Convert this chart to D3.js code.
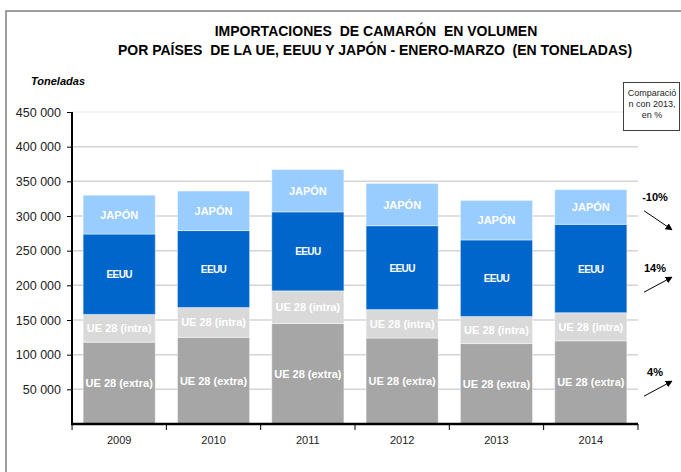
<!DOCTYPE html>
<html>
<head>
<meta charset="utf-8">
<script src="https://cdn.jsdelivr.net/npm/d3@7"></script>
<style>
  body { margin: 0; background: #fff; }
  text { font-family: Arial, "Liberation Sans", sans-serif; }
</style>
</head>
<body>
<div id="chart"></div>
<script>
var years = ['2009', '2010', '2011', '2012', '2013', '2014'];
var ueExtra = [118000, 125000, 145000, 124000, 116000, 120000];
var ueIntra = [40000, 43000, 47000, 41000, 39000, 40500];
var eeuu = [116000, 111000, 114000, 121000, 110500, 127500];
var japon = [56000, 57000, 61000, 61000, 57000, 50000];
var seriesNames = ['UE 28 (extra)', 'UE 28 (intra)', 'EEUU', 'JAPÓN'];
var yTicks = [50000, 100000, 150000, 200000, 250000, 300000, 350000, 400000, 450000];
var changeLabels = ['-10%', '14%', '4%'];
var changeAt = [322000, 219000, 69000];

var w = 681, h = 472;
var colors = ['#a6a6a6', '#d9d9d9', '#0066cc', '#99ccff'];

var svg = d3.select('#chart').append('svg')
    .attr('width', w)
    .attr('height', h);

var rows = years.map(function(y, i) {
  return { year: y, 'UE 28 (extra)': ueExtra[i], 'UE 28 (intra)': ueIntra[i], 'EEUU': eeuu[i], 'JAPÓN': japon[i] };
});
var stacked = d3.stack().keys(seriesNames)(rows);

var x = d3.scaleBand().domain(years).range([72, 638]).paddingInner(0.235).paddingOuter(0.118);
var y = d3.scaleLinear().domain([0, 450000]).range([424, 112]);

// outer frame
svg.append('path')
    .attr('d', 'M6,472 V11 H681')
    .attr('fill', 'none')
    .attr('stroke', '#808080')
    .attr('stroke-width', 1.5);

// title
svg.append('text').attr('x', 376).attr('y', 36)
    .attr('text-anchor', 'middle').attr('font-size', '14px').attr('font-weight', 'bold')
    .style('white-space', 'pre')
    .text('IMPORTACIONES  DE CAMARÓN  EN VOLUMEN');
svg.append('text').attr('x', 375).attr('y', 55)
    .attr('text-anchor', 'middle').attr('font-size', '14px').attr('font-weight', 'bold')
    .style('white-space', 'pre')
    .text('POR PAÍSES  DE LA UE, EEUU Y JAPÓN - ENERO-MARZO  (EN TONELADAS)');

svg.append('text').attr('x', 31).attr('y', 85)
    .attr('font-size', '11px').attr('font-weight', 'bold').attr('font-style', 'italic')
    .text('Toneladas');

// gridlines
svg.selectAll('.grid')
    .data(yTicks)
    .enter()
    .append('line')
    .attr('class', 'grid')
    .attr('x1', 72).attr('x2', 638)
    .attr('y1', function(d) { return y(d); })
    .attr('y2', function(d) { return y(d); })
    .attr('stroke', function(d) { return d === 450000 ? '#efefef' : '#d4d4d4'; })
    .attr('stroke-width', 1.5);

// bars
var layer = svg.selectAll('.layer')
    .data(stacked)
    .enter()
    .append('g')
    .attr('class', 'layer')
    .attr('fill', function(d, i) { return colors[i]; });

layer.selectAll('rect')
    .data(function(d) { return d; })
    .enter()
    .append('rect')
    .attr('x', function(d) { return x(d.data.year); })
    .attr('y', function(d) { return y(d[1]); })
    .attr('width', x.bandwidth())
    .attr('height', function(d) { return y(d[0]) - y(d[1]); })
    .attr('stroke', '#ffffff')
    .attr('stroke-opacity', 0.45)
    .attr('stroke-width', 1);

layer.each(function(s) {
  d3.select(this).selectAll('text')
      .data(s)
      .enter()
      .append('text')
      .attr('x', function(d) { return x(d.data.year) + x.bandwidth() / 2; })
      .attr('y', function(d) { return (y(d[0]) + y(d[1])) / 2 + 4; })
      .attr('text-anchor', 'middle')
      .attr('fill', '#fff')
      .attr('font-size', s.key === 'EEUU' ? '10px' : '11px')
      .attr('font-weight', 'bold')
      .attr('letter-spacing', s.key === 'EEUU' ? '-0.6px' : '0px')
      .text(s.key);
});

// axes
var yAxis = svg.append('g')
    .attr('transform', 'translate(72,0)')
    .call(d3.axisLeft(y).tickValues(yTicks).tickSize(5).tickPadding(6)
      .tickFormat(function(d) { return d3.format(',')(d).replace(',', ' '); }));
yAxis.select('.domain').attr('stroke', '#000').attr('stroke-width', 2).attr('d', 'M0,112V424');
yAxis.selectAll('.tick line').attr('stroke', '#000');
yAxis.selectAll('.tick text').attr('font-size', '12.5px').attr('fill', '#222').attr('font-family', 'Arial, "Liberation Sans", sans-serif');

var xAxis = svg.append('g')
    .attr('transform', 'translate(0,424)');
xAxis.append('line')
    .attr('x1', 71).attr('x2', 638).attr('y1', 0).attr('y2', 0)
    .attr('stroke', '#000').attr('stroke-width', 2.5);
var bounds = years.map(function(d) { return x(d) - x.step() * x.paddingInner() / 2; }).concat([638]);
xAxis.selectAll('.xt')
    .data(bounds)
    .enter()
    .append('line')
    .attr('x1', function(d) { return d; }).attr('x2', function(d) { return d; })
    .attr('y1', 0).attr('y2', 6)
    .attr('stroke', '#000');
xAxis.selectAll('.xl')
    .data(years)
    .enter()
    .append('text')
    .attr('x', function(d) { return x(d) + x.bandwidth() / 2; })
    .attr('y', 20)
    .attr('text-anchor', 'middle')
    .attr('font-size', '11px')
    .attr('fill', '#222')
    .text(function(d) { return d; });

// comparison box
svg.append('rect')
    .attr('x', 623.5).attr('y', 82.5).attr('width', 56).attr('height', 48)
    .attr('fill', '#fff').attr('stroke', '#404040').attr('stroke-width', 1);
svg.append('text')
    .attr('x', 652).attr('y', 96)
    .attr('text-anchor', 'middle').attr('font-size', '9px').attr('fill', '#222')
    .selectAll('tspan')
    .data(['Comparació', 'n con 2013,', 'en %'])
    .enter()
    .append('tspan')
    .attr('x', 652)
    .attr('dy', function(d, i) { return i === 0 ? 0 : 11; })
    .text(function(d) { return d; });

// change annotations
svg.append('defs').append('marker')
    .attr('id', 'arr')
    .attr('viewBox', '0 0 10 10')
    .attr('refX', 9).attr('refY', 5)
    .attr('markerWidth', 7).attr('markerHeight', 7)
    .attr('orient', 'auto')
    .append('path').attr('d', 'M0,0 L10,5 L0,10 z').attr('fill', '#000');

changeLabels.forEach(function(lbl, i) {
  var cy = y(changeAt[i]);
  svg.append('text')
      .attr('x', 655).attr('y', cy)
      .attr('text-anchor', 'middle')
      .attr('font-size', '11px').attr('font-weight', 'bold')
      .text(lbl);
  var down = lbl.charAt(0) === '-';
  svg.append('line')
      .attr('x1', 644).attr('x2', 672)
      .attr('y1', down ? cy + 10 : cy + 20)
      .attr('y2', down ? cy + 29 : cy + 5)
      .attr('stroke', '#000').attr('stroke-width', 1)
      .attr('marker-end', 'url(#arr)');
});
</script>
</body>
</html>
